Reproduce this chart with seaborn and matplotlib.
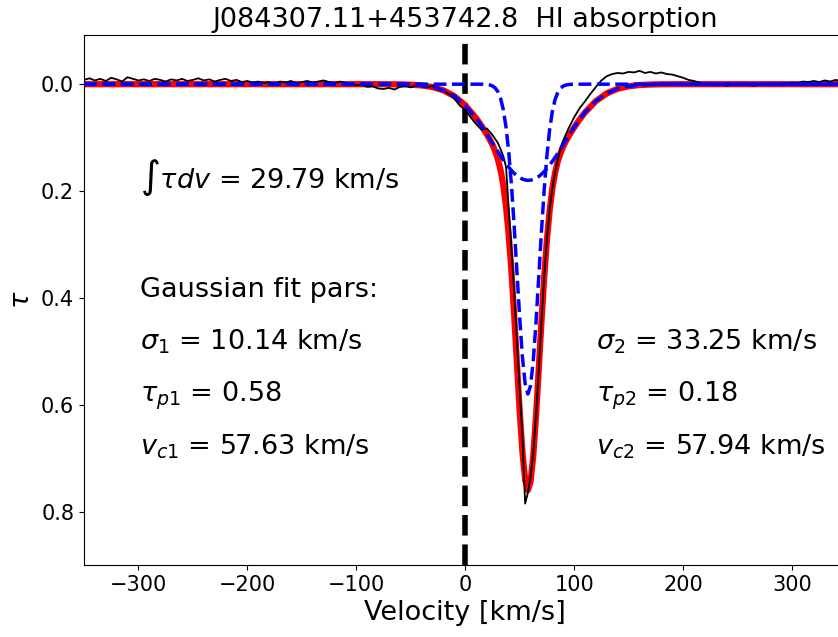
import numpy as np
import matplotlib
matplotlib.use("Agg")
import matplotlib.pyplot as plt
import seaborn as sns

vel_obs = np.concatenate([np.arange(-350, 30, 5), np.arange(30, 90, 2.5), np.arange(90, 351, 5)])
tau_obs = [
    -0.008, -0.011, -0.007, -0.010, -0.006, -0.012, -0.009, -0.005, -0.013, -0.010,
    -0.007, -0.009, -0.006, -0.010, -0.008, -0.005, -0.009, -0.007, -0.010, -0.006,
    -0.008, -0.011, -0.007, -0.009, -0.005, -0.008, -0.010, -0.006, -0.008, -0.004,
    -0.006, -0.003, -0.005, -0.002, -0.004, -0.001, -0.005, -0.003, -0.006, -0.002,
    -0.004, -0.006, -0.003, -0.005, -0.007, -0.004, -0.002, -0.005, -0.003, -0.001,
    0.002, 0.001, 0.005, 0.004, 0.008, 0.009, 0.007, 0.010, 0.005, 0.003,
    0.006, 0.002, 0.004, 0.006, 0.003, 0.009, 0.012, 0.018, 0.027, 0.040,
    0.048, 0.062, 0.075, 0.085, 0.083, 0.095,
    # 30 .. 87.5 step 2.5
    0.110, 0.122, 0.135, 0.155, 0.235, 0.310, 0.390, 0.480, 0.570, 0.660,
    0.785, 0.765, 0.735, 0.690, 0.620, 0.535, 0.445, 0.360, 0.290, 0.235,
    0.195, 0.165, 0.142, 0.120,
    # 90 .. 350
    0.105, 0.082, 0.062, 0.045, 0.032, 0.018, 0.005, -0.007, -0.015, -0.019,
    -0.021, -0.020, -0.023, -0.022, -0.025, -0.021, -0.023, -0.020, -0.022, -0.019,
    -0.018, -0.015, -0.012, -0.008, -0.006, -0.003, 0.001, -0.001, 0.002, 0.000,
    0.003, 0.001, 0.002, -0.001, 0.001, 0.003, 0.000, 0.001, -0.001, 0.000,
    -0.002, -0.001, -0.003, -0.002, -0.005, -0.004, -0.006, -0.004, -0.007, -0.005,
    -0.008, -0.006, -0.009,
]

# gaussian fit components, tabulated
vel_fit = np.concatenate([np.arange(-350, -100, 50), np.arange(-100, 10, 10),
                          np.arange(10, 100.1, 2.5), [105], np.arange(110, 201, 10),
                          [250, 300, 350]])
tau_comp1 = [0, 0, 0, 0, 0,
             0, 0, 0, 0, 0, 0, 0, 0, 0, 0, 0,
             0.00001, 0.00003, 0.00008, 0.00023, 0.00059, 0.00144, 0.00327, 0.00702, 0.01416, 0.02690,
             0.04807, 0.08084, 0.12795, 0.19054, 0.26702, 0.35213, 0.43698, 0.51033, 0.56081, 0.57995,
             0.56438, 0.51682, 0.44538, 0.36115, 0.27559, 0.19789, 0.13372, 0.08503, 0.05088, 0.02865,
             0.01518, 0.00757, 0.00355, 0.00157, 0.00065, 0.00025, 0.00009,
             0.00001,
             0, 0, 0, 0, 0, 0, 0, 0, 0, 0,
             0, 0, 0]
tau_comp2 = [0, 0, 0, 0, 0,
             0.0, 0.00001, 0.00003, 0.00011, 0.00033, 0.00093, 0.00235, 0.00545, 0.01153, 0.02232, 0.03943,
             0.06366, 0.07075, 0.07818, 0.08591, 0.09387, 0.10199, 0.11019, 0.11839, 0.12646, 0.13433,
             0.14187, 0.14901, 0.15562, 0.16160, 0.16687, 0.17134, 0.17494, 0.17761, 0.17930, 0.17998,
             0.17965, 0.17832, 0.17599, 0.17271, 0.16854, 0.16354, 0.15780, 0.15140, 0.14444, 0.13703,
             0.12926, 0.12124, 0.11308, 0.10488, 0.09672, 0.08869, 0.08087,
             0.06611,
             0.05284, 0.03154, 0.01719, 0.00856, 0.00390, 0.00162, 0.00062, 0.00021, 0.00007, 0.00002,
             0, 0, 0]
tau_total = np.array(tau_comp1) + np.array(tau_comp2)

title = "J084307.11+453742.8  HI absorption"
int_label = r"$\int\tau dv$ = 29.79 km/s"
left_pars = ["Gaussian fit pars:", r"$\sigma_1$ = 10.14 km/s", r"$\tau_{p1}$ = 0.58", r"$v_{c1}$ = 57.63 km/s"]
right_pars = [r"$\sigma_2$ = 33.25 km/s", r"$\tau_{p2}$ = 0.18", r"$v_{c2}$ = 57.94 km/s"]

fig = plt.figure(figsize=(8.38, 6.37), dpi=100)
ax = fig.add_axes([0.1002, 0.1130, 0.9099, 0.8320])

ax.axvline(0, color="black", ls="--", lw=4, zorder=1)
sns.lineplot(x=vel_fit, y=tau_total, color="red", lw=4.5, sort=False, estimator=None, ax=ax, zorder=2)
sns.lineplot(x=vel_obs, y=tau_obs, color="black", lw=1.3, sort=False, estimator=None, ax=ax, zorder=3)
sns.lineplot(x=vel_fit, y=tau_comp1, color="blue", lw=2.5, ls="--", sort=False, estimator=None, ax=ax, zorder=4)
sns.lineplot(x=vel_fit, y=tau_comp2, color="blue", lw=2.5, ls="--", sort=False, estimator=None, ax=ax, zorder=4)

ax.set_xlim(-350, 350)
ax.set_ylim(0.9, -0.092)
ax.set_title(title, fontsize=19.5)
ax.set_xlabel("Velocity [km/s]", fontsize=19.5)
ax.set_ylabel(r"$\tau$", fontsize=19.5)
ax.tick_params(labelsize=15)

ax.text(0.0734, 0.7108, int_label, transform=ax.transAxes, fontsize=19.5, va="baseline")
for txt, yy in zip(left_pars, [0.5062, 0.4075, 0.3094, 0.2094]):
    ax.text(0.0734, yy, txt, transform=ax.transAxes, fontsize=19.5, va="baseline")
for txt, yy in zip(right_pars, [0.4075, 0.3094, 0.2094]):
    ax.text(0.6715, yy, txt, transform=ax.transAxes, fontsize=19.5, va="baseline")

fig.savefig("out.png", dpi=100)
